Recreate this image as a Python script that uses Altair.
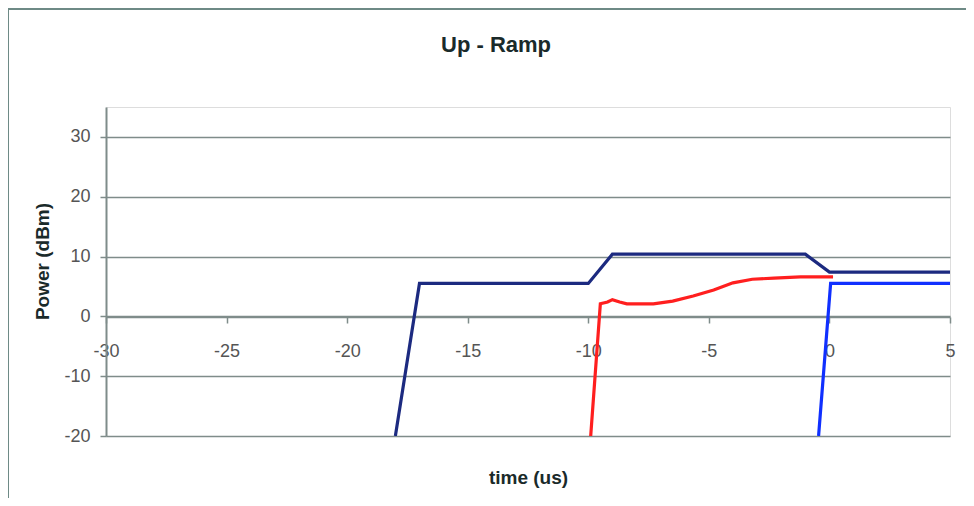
import altair as alt
import pandas as pd

# ---- data ----
navy_x = [-18.0, -17.0, -10.0, -9.0, -1.0, 0.0, 5.0]
navy_y = [-20.0, 5.5, 5.5, 10.4, 10.4, 7.4, 7.4]

red_x = [-9.9, -9.5, -9.2, -9.0, -8.7, -8.4, -7.3, -6.5, -5.65, -4.8, -4.0, -3.2, -2.3, -1.2, 0.15]
red_y = [-20.0, 2.1, 2.4, 2.8, 2.4, 2.1, 2.1, 2.55, 3.4, 4.4, 5.6, 6.2, 6.4, 6.6, 6.6]

blue_x = [-0.45, 0.05, 5.0]
blue_y = [-20.0, 5.5, 5.5]

x_ticks = [-30, -25, -20, -15, -10, -5, 0, 5]
y_ticks = [-20, -10, 0, 10, 20, 30]

chart_title = "Up - Ramp"

rows = []
for name, xs, ys in [("A", navy_x, navy_y), ("B", red_x, red_y), ("C", blue_x, blue_y)]:
    for i, (xv, yv) in enumerate(zip(xs, ys)):
        rows.append({"series": name, "t": xv, "p": yv, "i": i})
df = pd.DataFrame(rows)

FONT = "Liberation Sans"
GRID = "#7f8c8a"

W, H = 844, 329

x_scale = alt.Scale(domain=[-30, 5], nice=False, zero=False)
y_scale = alt.Scale(domain=[-20, 35], nice=False, zero=False)

label_expr = "'' + datum.value"

lines = alt.Chart(df).mark_line(strokeWidth=3.2, clip=True).encode(
    x=alt.X("t:Q", scale=x_scale,
            axis=alt.Axis(values=x_ticks, grid=False, offset=-119,
                          title="time (us)", titleFont=FONT, titleFontSize=19,
                          titleFontWeight="bold", titleColor="#1a2a2a",
                          titleY=160, titleBaseline="middle",
                          labelFont=FONT, labelFontSize=18, labelColor="#555555",
                          labelExpr=label_expr,
                          labelPadding=19, tickSize=6, tickColor=GRID, tickWidth=1.5,
                          domainColor=GRID, domainWidth=1.5, labelFlush=False)),
    y=alt.Y("p:Q", scale=y_scale,
            axis=alt.Axis(values=y_ticks, grid=True, gridColor=GRID, gridWidth=1.5,
                          title="Power (dBm)", titleFont=FONT, titleFontSize=19,
                          titleFontWeight="bold", titleColor="#1a2a2a",
                          titleX=-64, titleY=154, titleAngle=-90,
                          titleAlign="center", titleBaseline="middle",
                          labelFont=FONT, labelFontSize=18, labelColor="#555555",
                          labelExpr=label_expr,
                          labelPadding=10, tickSize=6, tickColor=GRID, tickWidth=1.5,
                          domainColor=GRID, domainWidth=2)),
    color=alt.Color("series:N",
                    scale=alt.Scale(domain=["A", "B", "C"],
                                    range=["#1c2a80", "#ff1f1f", "#1030ff"]),
                    legend=None),
    order="i:Q",
)

frame = alt.Chart(df).mark_rect(fillOpacity=0, stroke="#6e8a86", strokeWidth=2).encode(
    x=alt.value(-98), x2=alt.value(W + 200), y=alt.value(-98), y2=alt.value(H + 200)
)

title = alt.Chart(pd.DataFrame({"txt": [chart_title]})).mark_text(
    font=FONT, fontSize=22, fontWeight="bold", color="#1a2a2a",
    align="center", baseline="middle"
).encode(text="txt:N", x=alt.value(390), y=alt.value(-62))

chart = alt.layer(frame, lines, title).properties(
    width=W, height=H,
    padding={"left": 98, "top": 99, "right": 16, "bottom": 62},
    autosize=alt.AutoSizeParams(type="none"),
).configure_view(stroke="#708080", strokeWidth=2).configure(background="white")

chart.save("out.html", embed_options={"renderer": "svg", "actions": False})
